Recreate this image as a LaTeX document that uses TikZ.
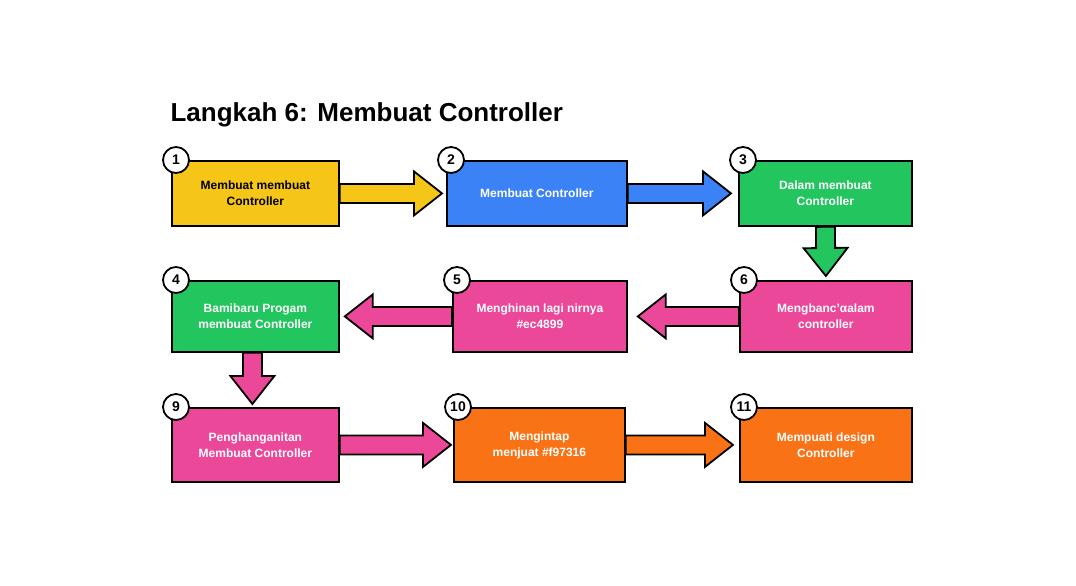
\documentclass[tikz,border=0pt]{standalone}
\usepackage{fontspec}
\setmainfont{Liberation Sans}
\usetikzlibrary{calc}
\definecolor{cyellow}{HTML}{F5C518}
\definecolor{cblue}{HTML}{3B82F6}
\definecolor{cgreen}{HTML}{22C55E}
\definecolor{cpink}{HTML}{EC4899}
\definecolor{corange}{HTML}{F97316}
\tikzset{
    box/.style={draw=black,line width=1.8pt,rectangle,anchor=north west,align=center,
        font=\bfseries\fontsize{12}{16}\selectfont,text=white},
    badge/.style={draw=black,line width=1.8pt,circle,fill=white,minimum size=26pt,inner sep=0pt,
        font=\bfseries\fontsize{14}{14}\selectfont},
    blk/.style={draw=black,line width=1.8pt,line join=miter},
}
\newcommand{\blockarr}[3]{%
  \coordinate (H) at ($(#3)!28pt!(#2)$);
  \draw[blk,fill=#1] ($(#2)!9.5pt!90:(#3)$) -- ($(H)!9.5pt!-90:(#2)$) -- ($(H)!22pt!-90:(#2)$)
    -- (#3) -- ($(H)!22pt!90:(#2)$) -- ($(H)!9.5pt!90:(#2)$) -- ($(#2)!9.5pt!-90:(#3)$) -- cycle;}
\begin{document}
\begin{tikzpicture}[x=1pt,y=-1pt]
\useasboundingbox[fill=white] (0,0) rectangle (1076,586);
\node[anchor=west,font=\bfseries\fontsize{26}{26}\selectfont] (title) at (167,115) {Langkah 6: Membuat Controller};
% boxes
\node[box,fill=cyellow,text=black,minimum width=167pt,minimum height=65pt] (b1) at (171,160) {Membuat membuat\\Controller};
\node[box,fill=cblue,minimum width=180pt,minimum height=65pt] (b2) at (446,160) {Membuat Controller};
\node[box,fill=cgreen,minimum width=173pt,minimum height=65pt] (b3) at (738,160) {Dalam membuat\\Controller};
\node[box,fill=cgreen,minimum width=167pt,minimum height=71pt] (b4) at (171,280) {Bamibaru Progam\\membuat Controller};
\node[box,fill=cpink,minimum width=174pt,minimum height=71pt] (b5) at (452,280) {Menghinan lagi nirnya\\\#ec4899};
\node[box,fill=cpink,minimum width=172pt,minimum height=71pt] (b6) at (739,280) {Mengbanc'αalam\\controller};
\node[box,fill=cpink,minimum width=167pt,minimum height=74pt] (b9) at (171,407) {Penghanganitan\\Membuat Controller};
\node[box,fill=corange,minimum width=171pt,minimum height=74pt] (b10) at (453,407) {Mengintap\\menjuat \#f97316};
\node[box,fill=corange,minimum width=172pt,minimum height=74pt] (b11) at (739,407) {Mempuati design\\Controller};
% connectors
\coordinate (a1) at (b1.east); \coordinate (e1) at ($(b2.west)+(-4,0)$);
\coordinate (a2) at (b2.east); \coordinate (e2) at ($(b3.west)+(-7,0)$);
\coordinate (a3) at (b3.south); \coordinate (e3) at ($(b6.north)+(0,-4)$);
\coordinate (a4) at (b6.west); \coordinate (e4) at ($(b5.east)+(10,0)$);
\coordinate (a5) at (b5.west); \coordinate (e5) at ($(b4.east)+(5,0)$);
\coordinate (a6) at ($(b4.south)+(-3,0)$); \coordinate (e6) at ($(b9.north)+(-3,-3)$);
\coordinate (a7) at (b9.east); \coordinate (e7) at ($(b10.west)+(-2,0)$);
\coordinate (a8) at (b10.east); \coordinate (e8) at ($(b11.west)+(-6,0)$);
\blockarr{cyellow}{a1}{e1}
\blockarr{cblue}{a2}{e2}
\blockarr{cgreen}{a3}{e3}
\blockarr{cpink}{a4}{e4}
\blockarr{cpink}{a5}{e5}
\blockarr{cpink}{a6}{e6}
\blockarr{cpink}{a7}{e7}
\blockarr{corange}{a8}{e8}
% badges
\foreach \b/\n in {b1/1,b2/2,b3/3,b4/4,b5/5,b6/6,b9/9,b10/10,b11/11}
  \node[badge] (n\n) at ($(\b.north west)+(5,0)$) {\n};
\end{tikzpicture}
\end{document}
